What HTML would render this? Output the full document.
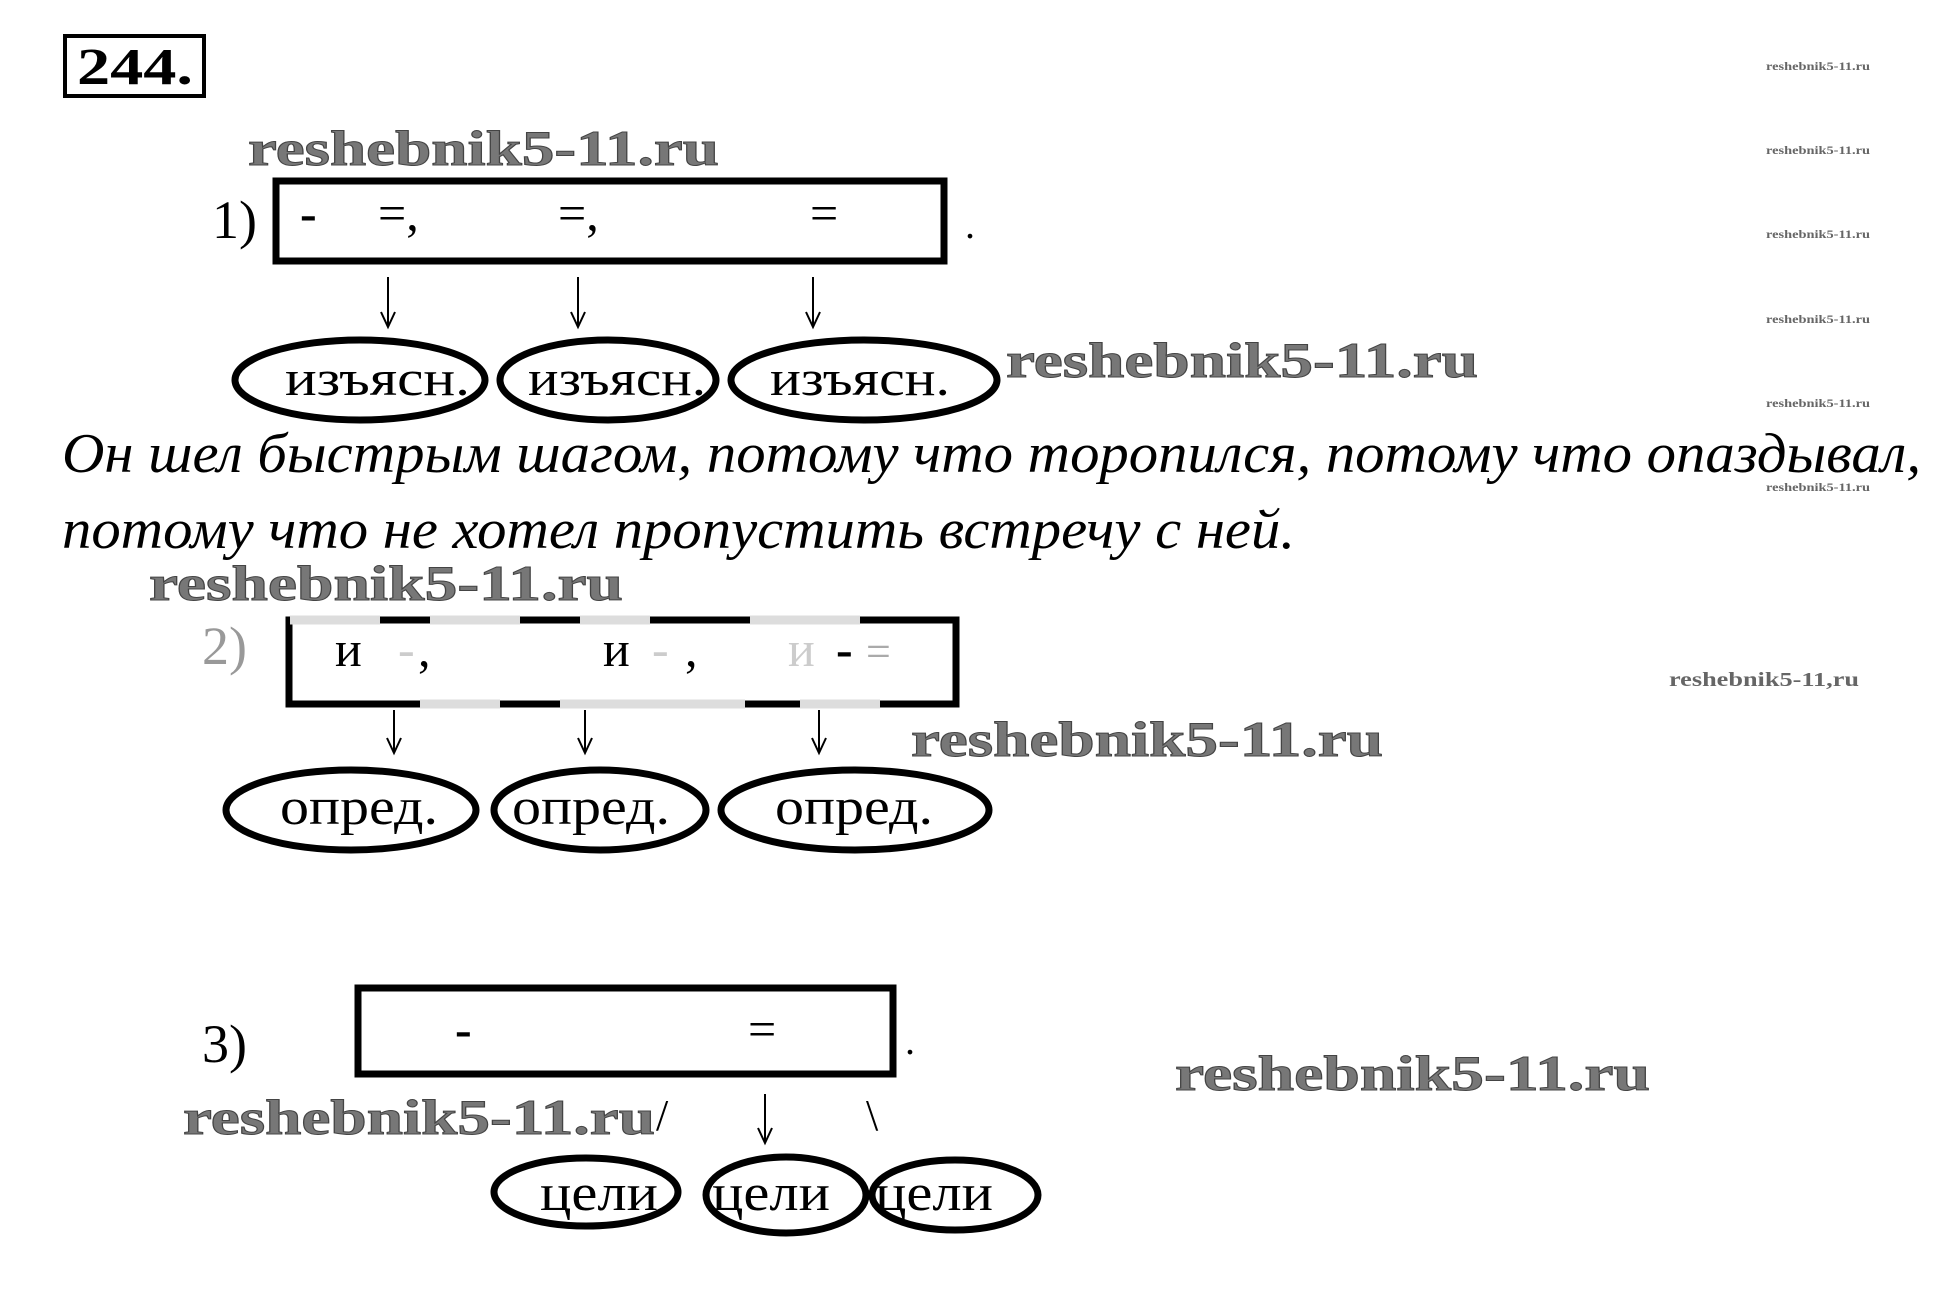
<!DOCTYPE html>
<html><head><meta charset="utf-8"><style>html,body{margin:0;padding:0;background:#fff}svg{display:block}text{font-family:"Liberation Serif",serif}</style></head>
<body>
<svg width="1933" height="1304" viewBox="0 0 1933 1304" xmlns="http://www.w3.org/2000/svg">
<!-- 244 -->
<rect x="65" y="36" width="139" height="60" fill="none" stroke="#000" stroke-width="4"/>
<text x="77" y="84" font-size="52" font-weight="bold" textLength="116" lengthAdjust="spacingAndGlyphs">244.</text>

<g font-weight="bold" fill="#777" stroke="#444" stroke-width="1">
<text x="248" y="165" font-size="50" textLength="471" lengthAdjust="spacingAndGlyphs">reshebnik5-11.ru</text>
<text x="1006" y="377" font-size="50" textLength="472" lengthAdjust="spacingAndGlyphs">reshebnik5-11.ru</text>
<text x="149" y="600" font-size="50" textLength="474" lengthAdjust="spacingAndGlyphs">reshebnik5-11.ru</text>
<text x="911" y="756" font-size="50" textLength="472" lengthAdjust="spacingAndGlyphs">reshebnik5-11.ru</text>
<text x="183" y="1134" font-size="50" textLength="472" lengthAdjust="spacingAndGlyphs">reshebnik5-11.ru</text>
<text x="1175" y="1090" font-size="50" textLength="475" lengthAdjust="spacingAndGlyphs">reshebnik5-11.ru</text>
</g>
<g font-weight="bold" fill="#666" font-size="12">
<text x="1766" y="70" textLength="104" lengthAdjust="spacingAndGlyphs">reshebnik5-11.ru</text>
<text x="1766" y="154" textLength="104" lengthAdjust="spacingAndGlyphs">reshebnik5-11.ru</text>
<text x="1766" y="238" textLength="104" lengthAdjust="spacingAndGlyphs">reshebnik5-11.ru</text>
<text x="1766" y="323" textLength="104" lengthAdjust="spacingAndGlyphs">reshebnik5-11.ru</text>
<text x="1766" y="407" textLength="104" lengthAdjust="spacingAndGlyphs">reshebnik5-11.ru</text>
<text x="1766" y="491" textLength="104" lengthAdjust="spacingAndGlyphs">reshebnik5-11.ru</text>
<text x="1669" y="686" font-size="20" textLength="190" lengthAdjust="spacingAndGlyphs">reshebnik5-11,ru</text>
</g>

<!-- 1 -->
<text x="212" y="238" font-size="54">1)</text>
<rect x="276" y="181" width="668" height="80" fill="none" stroke="#000" stroke-width="7"/>
<text x="300" y="230" font-size="50" font-weight="bold">-</text>
<text x="378" y="230" font-size="50">=,</text>
<text x="558" y="230" font-size="50">=,</text>
<text x="810" y="230" font-size="50">=</text>
<text x="965" y="238" font-size="40">.</text>
<g stroke="#000" stroke-width="2" fill="none">
<path d="M388,277 V326 M381,312 L388,327 L395,312"/>
<path d="M578,277 V326 M571,312 L578,327 L585,312"/>
<path d="M813,277 V326 M806,312 L813,327 L820,312"/>
</g>
<g fill="none" stroke="#000" stroke-width="7">
<ellipse cx="360" cy="380" rx="125" ry="40"/>
<ellipse cx="608" cy="380" rx="108" ry="40"/>
<ellipse cx="864" cy="380" rx="133" ry="40"/>
</g>
<g font-size="50">
<text x="285" y="395" textLength="185" lengthAdjust="spacingAndGlyphs">изъясн.</text>
<text x="528" y="395" textLength="178" lengthAdjust="spacingAndGlyphs">изъясн.</text>
<text x="770" y="395" textLength="180" lengthAdjust="spacingAndGlyphs">изъясн.</text>
</g>

<text x="62" y="472" font-size="56" font-style="italic" textLength="1859" lengthAdjust="spacingAndGlyphs">Он шел быстрым шагом, потому что торопился, потому что опаздывал,</text>
<text x="62" y="548" font-size="56" font-style="italic" textLength="1233" lengthAdjust="spacingAndGlyphs">потому что не хотел пропустить встречу с ней.</text>

<!-- 2 -->
<text x="202" y="664" font-size="54" fill="#999">2)</text>
<rect x="289" y="620" width="667" height="84" fill="none" stroke="#000" stroke-width="7"/>
<g stroke="#ddd" stroke-width="9">
<line x1="290" y1="620" x2="380" y2="620"/><line x1="430" y1="620" x2="520" y2="620"/><line x1="580" y1="620" x2="650" y2="620"/><line x1="750" y1="620" x2="860" y2="620"/>
<line x1="420" y1="704" x2="500" y2="704"/><line x1="560" y1="704" x2="745" y2="704"/><line x1="800" y1="704" x2="880" y2="704"/>
</g>
<text x="335" y="666" font-size="50">и</text>
<text x="398" y="666" font-size="50" fill="#ccc">-</text><text x="418" y="666" font-size="50">,</text>
<text x="603" y="666" font-size="50">и</text>
<text x="652" y="666" font-size="50" fill="#ccc">-</text><text x="685" y="666" font-size="50">,</text>
<text x="788" y="666" font-size="50" fill="#ccc">и</text>
<text x="836" y="666" font-size="50" font-weight="bold">-</text>
<text x="866" y="666" font-size="44" fill="#aaa">=</text>
<g stroke="#000" stroke-width="2" fill="none">
<path d="M394,710 V752 M387,738 L394,753 L401,738"/>
<path d="M585,710 V752 M578,738 L585,753 L592,738"/>
<path d="M819,710 V752 M812,738 L819,753 L826,738"/>
</g>
<g fill="none" stroke="#000" stroke-width="7">
<ellipse cx="351" cy="810" rx="125" ry="40"/>
<ellipse cx="600" cy="810" rx="106" ry="40"/>
<ellipse cx="855" cy="810" rx="134" ry="40"/>
</g>
<g font-size="52">
<text x="280" y="824" textLength="158" lengthAdjust="spacingAndGlyphs">опред.</text>
<text x="512" y="824" textLength="158" lengthAdjust="spacingAndGlyphs">опред.</text>
<text x="775" y="824" textLength="158" lengthAdjust="spacingAndGlyphs">опред.</text>
</g>

<!-- 3 -->
<text x="202" y="1062" font-size="54">3)</text>
<rect x="358" y="988" width="535" height="86" fill="none" stroke="#000" stroke-width="7"/>
<text x="455" y="1046" font-size="50" font-weight="bold">-</text>
<text x="748" y="1046" font-size="50">=</text>
<text x="905" y="1054" font-size="40">.</text>
<text x="656" y="1130" font-size="44">/</text>
<text x="866" y="1130" font-size="44">\</text>
<path d="M765,1094 V1142 M758,1128 L765,1143 L772,1128" stroke="#000" stroke-width="2" fill="none"/>
<g fill="none" stroke="#000" stroke-width="7">
<ellipse cx="586" cy="1192" rx="92" ry="34"/>
<ellipse cx="786" cy="1195" rx="80" ry="38"/>
<ellipse cx="955" cy="1195" rx="83" ry="35"/>
</g>
<g font-size="52">
<text x="540" y="1210" textLength="118" lengthAdjust="spacingAndGlyphs">цели</text>
<text x="712" y="1210" textLength="118" lengthAdjust="spacingAndGlyphs">цели</text>
<text x="875" y="1210" textLength="118" lengthAdjust="spacingAndGlyphs">цели</text>
</g>
</svg>
</body></html>
